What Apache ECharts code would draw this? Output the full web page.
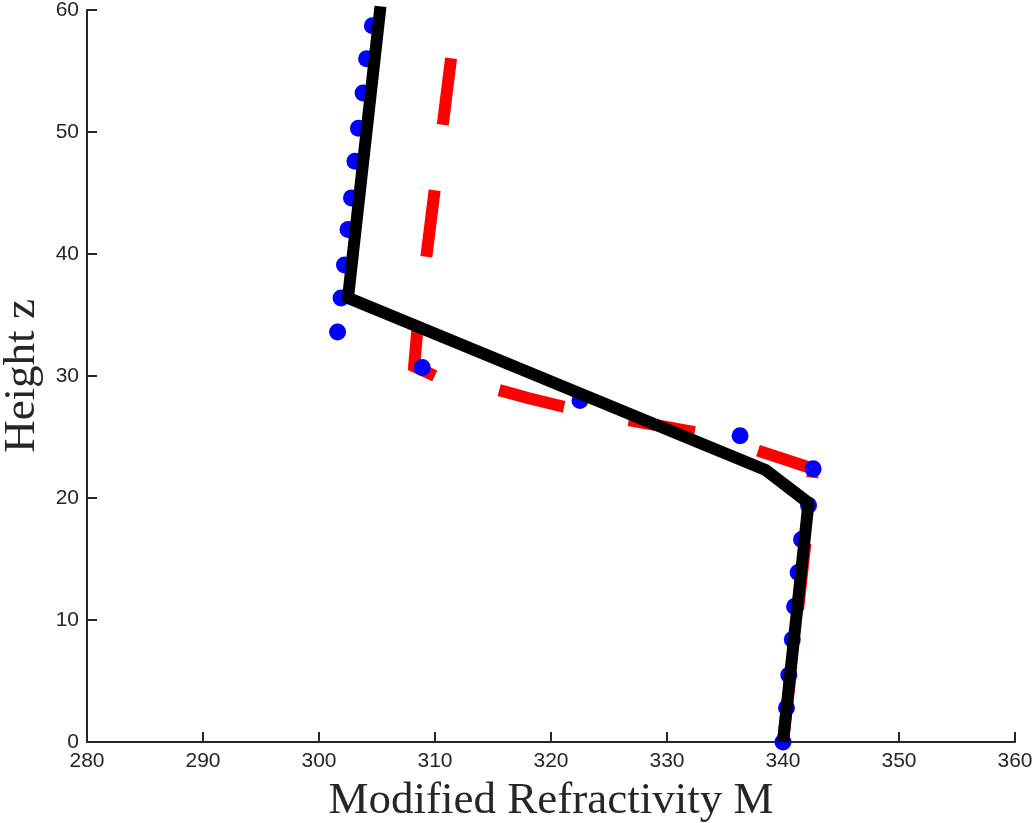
<!DOCTYPE html>
<html>
<head>
<meta charset="utf-8">
<script src="https://cdn.jsdelivr.net/npm/echarts@6/dist/echarts.min.js"></script>
<style>
  html, body { margin: 0; padding: 0; background: #fff; }
  #chart { width: 1032px; height: 823px; }
</style>
</head>
<body>
<div id="chart"></div>
<script>
// x axis ticks / y axis ticks
const xTicks = [280, 290, 300, 310, 320, 330, 340, 350, 360]
const yTicks = [0, 10, 20, 30, 40, 50, 60]

// measured profile (blue dots): [M, z]
const measuredM = [340.0, 340.3, 340.5, 340.8, 341.0, 341.3, 341.6, 342.2, 342.6, 336.3, 322.5,
  308.9, 301.6, 301.9, 302.2, 302.5, 302.8, 303.1, 303.4, 303.8, 304.1, 304.6]
const measuredZ = [0, 2.8, 5.5, 8.4, 11.1, 13.9, 16.6, 19.4, 22.4, 25.1, 28.0,
  30.7, 33.6, 36.4, 39.1, 42.0, 44.6, 47.6, 50.3, 53.2, 56.0, 58.7]

// red dashed profile
const dashedM = [340.0, 341.2, 342.3, 342.6, 337.8, 332.4, 326.6, 321.0, 318.0, 315.3, 310.0, 308.2, 308.5, 311.9]
const dashedZ = [0, 10, 19.5, 22.4, 23.9, 25.4, 26.4, 27.5, 28.2, 28.9, 30.0, 30.8, 34.0, 60]

// black piecewise profile
const solidM = [340.0, 342.2, 338.5, 302.5, 305.3]
const solidZ = [0, 19.6, 22.3, 36.4, 60.3]

const zip = (a, b) => a.map((v, i) => [v, b[i]])

const chart = echarts.init(document.getElementById('chart'))

const axisColor = '#262626'
const tickFont = 'Liberation Sans, Arial, sans-serif'
const nameFont = 'Liberation Serif, Times New Roman, serif'

const option = {
  animation: false,
  backgroundColor: '#ffffff',
  grid: { left: 87, right: 17, top: 10, bottom: 81, containLabel: false, outerBoundsMode: 'none' },
  xAxis: {
    type: 'value',
    min: xTicks[0],
    max: xTicks[xTicks.length - 1],
    interval: 10,
    name: 'Modified Refractivity M',
    nameLocation: 'middle',
    nameGap: 37,
    nameTextStyle: { fontFamily: nameFont, fontSize: 45, color: '#262626' },
    axisLine: { show: true, onZero: false, lineStyle: { color: axisColor, width: 2 } },
    axisTick: { show: true, inside: true, length: 10, lineStyle: { color: axisColor, width: 2 } },
    axisLabel: { color: '#262626', fontFamily: tickFont, fontSize: 21, margin: 9 },
    splitLine: { show: false }
  },
  yAxis: {
    type: 'value',
    min: yTicks[0],
    max: yTicks[yTicks.length - 1],
    interval: 10,
    name: 'Height z',
    nameLocation: 'middle',
    nameGap: 41,
    nameRotate: 90,
    nameTextStyle: { fontFamily: nameFont, fontSize: 45, color: '#262626' },
    axisLine: { show: true, lineStyle: { color: axisColor, width: 2 } },
    axisTick: { show: true, inside: true, length: 10, lineStyle: { color: axisColor, width: 2 } },
    axisLabel: { color: '#262626', fontFamily: tickFont, fontSize: 21, margin: 8 },
    splitLine: { show: false }
  },
  series: [
    {
      name: 'dashed',
      type: 'line',
      z: 2,
      data: zip(dashedM, dashedZ),
      showSymbol: false,
      symbol: 'none',
      clip: false,
      lineStyle: { color: '#ff0000', width: 12, type: [67, 66], cap: 'butt', join: 'miter' }
    },
    {
      name: 'measured',
      type: 'scatter',
      z: 3,
      data: zip(measuredM, measuredZ),
      symbol: 'circle',
      symbolSize: 17,
      clip: false,
      itemStyle: { color: '#0000ff', opacity: 1 }
    },
    {
      name: 'solid',
      type: 'line',
      z: 4,
      data: zip(solidM, solidZ),
      showSymbol: false,
      symbol: 'none',
      clip: false,
      lineStyle: { color: '#000000', width: 12, join: 'round' }
    }
  ]
}

chart.setOption(option)
</script>
</body>
</html>
